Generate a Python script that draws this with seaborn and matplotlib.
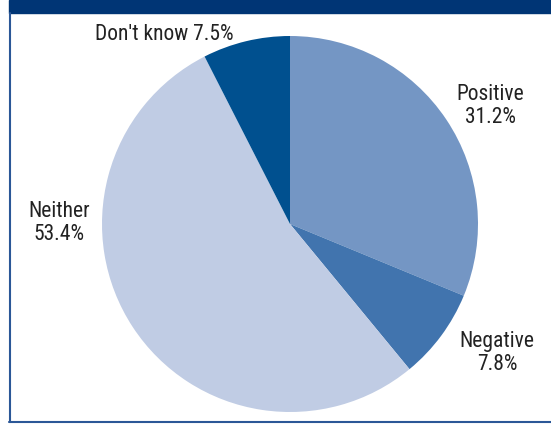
import matplotlib
matplotlib.use("Agg")
import matplotlib.pyplot as plt
import seaborn as sns
from matplotlib import font_manager
from matplotlib.patches import Rectangle

sns.set_theme(style="white")

# Prefer a condensed sans face when one is installed
names = {f.name for f in font_manager.fontManager.ttflist}
preferred = ["Roboto Condensed", "Liberation Sans Narrow", "Arial Narrow",
             "Nimbus Sans Narrow", "Archivo Narrow", "Open Sans Condensed"]
narrow = [n for n in preferred if n in names]
if not narrow:
    narrow = sorted(n for n in names
                    if ("Narrow" in n or "Condensed" in n) and "Sans" in n)
family = narrow[:1] + ["Liberation Sans", "DejaVu Sans"]
plt.rcParams['font.family'] = family
fs = 15.5 if narrow else 13.5

categories = ["Positive", "Negative", "Neither", "Don't know"]
shares = [31.2, 7.8, 53.4, 7.5]
colors = ["#7496c4", "#4174ae", "#c0cce4", "#00508f"]

W, H = 551, 424
fig = plt.figure(figsize=(W / 100, H / 100), dpi=100)
ax = fig.add_axes([0, 0, 1, 1])

# Header band and panel frame
ax.add_patch(Rectangle((9, H - 13), W - 9, 13, color="#003575", zorder=1))
ax.plot([9.5, 9.5], [H - 13, H - 422], color="#2b5797", lw=1.5, zorder=2)
ax.plot([9, W], [H - 421.5, H - 421.5], color="#2b5797", lw=1.5, zorder=2)

cx, cy, r = 290, H - 224, 188
ax.pie(shares, colors=colors, startangle=90, counterclock=False,
       center=(cx, cy), radius=r, frame=True,
       wedgeprops=dict(linewidth=0))
ax.set_xlim(0, W)
ax.set_ylim(0, H)
ax.set_aspect("equal")
ax.axis("off")

tc = "#222222"
label_pos = {
    "Positive": (490, 106),
    "Negative": (497, 353),
    "Neither": (59, 223),
}
for cat, val in zip(categories, shares):
    if cat in label_pos:
        x, y = label_pos[cat]
        ax.text(x, H - y, f"{cat}\n{val}%", ha="center", va="center",
                fontsize=fs, color=tc, linespacing=1.15)
    else:
        ax.text(164, H - 35, f"{cat} {val}%", ha="center", va="center",
                fontsize=fs, color=tc)

fig.savefig("out.png", dpi=100)
